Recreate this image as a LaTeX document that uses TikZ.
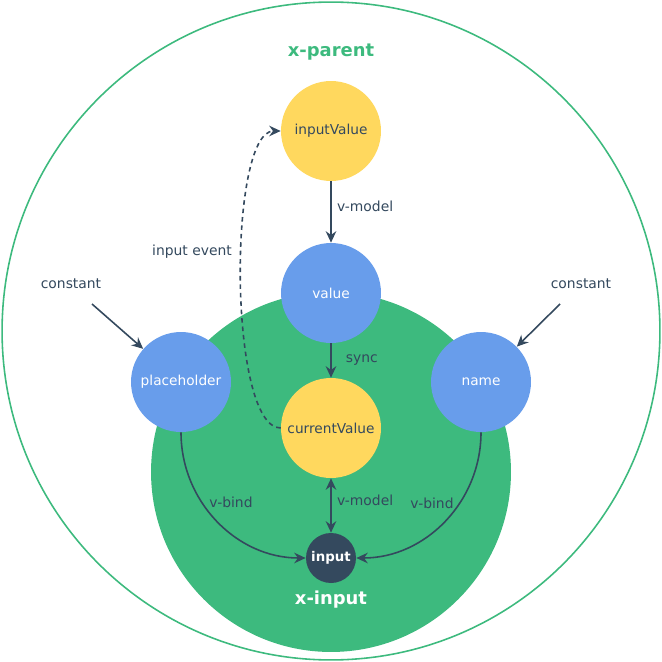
\documentclass[tikz,border=0pt]{standalone}
\usepackage{fontspec}
\setmainfont{DejaVu Sans}
\definecolor{parentgreen}{RGB}{61, 186, 126}
\definecolor{vueyellow}{RGB}{255, 216, 94}
\definecolor{vueblue}{RGB}{104, 157, 235}
\definecolor{textnavy}{RGB}{52, 73, 94}
\usetikzlibrary{arrows.meta, positioning}

\begin{document}
\begin{tikzpicture}[x=0.02cm, y=-0.02cm, >={Stealth[length=6.5pt, width=6pt]},
    bubble/.style={circle, minimum size=2cm, inner sep=0pt, font=\fontsize{7.8}{9}\selectfont},
    yellowbubble/.style={bubble, fill=vueyellow, text=textnavy},
    bluebubble/.style={bubble, fill=vueblue, text=white},
    edgelabel/.style={text=textnavy, inner sep=1pt, font=\fontsize{7.9}{9}\selectfont},
    scopelabel/.style={font=\fontsize{10.2}{12}\selectfont\bfseries},
    flow/.style={line width=0.9pt, draw=textnavy}]
      \useasboundingbox (0,0) rectangle (662,662);
      % the two scopes
      \draw[parentgreen, line width=0.9pt] (331,331) circle [radius=6.58cm];
      \fill[parentgreen] (331,472) circle [radius=3.6cm];
      \node (parentname) [scopelabel, text=parentgreen] at (331,52) {x-parent};
      \node (inputname) [scopelabel, text=white] at (331,600) {x-input};

      \node (inputValue) [yellowbubble] at (331,131) {inputValue};
      \node (value) [bluebubble] at (331,293) {value};
      \node (currentValue) [yellowbubble] at (331,428) {currentValue};
      \node (placeholder) [bluebubble] at (181,382) {placeholder};
      \node (name) [bluebubble] at (481,382) {name};
      \node (input) [circle, fill=textnavy, text=white, minimum size=1cm, inner sep=0pt, font=\fontsize{7.6}{9}\selectfont\bfseries] at (331,558) {input};

      \node (constleft) [edgelabel] at (71,284) {constant};
      \node (constright) [edgelabel] at (581,284) {constant};
      \coordinate (constleft-tail) at (92,304);
      \coordinate (constright-tail) at (560,304);
      \node (eventlabel) [edgelabel] at (192,252) {input event};
      \node (bindleft) [edgelabel] at (231,502) {v-bind};
      \node (bindright) [edgelabel] at (432,503) {v-bind};

      \draw[->, flow] (inputValue) -- node[edgelabel, right=2pt, pos=0.4] {v-model} (value);
      \draw[->, flow] (value) -- node[edgelabel, right=7pt] {sync} (currentValue);
      \draw[<->, flow] (currentValue) -- node[edgelabel, right=2pt, pos=0.4] {v-model} (input);
      \draw[->, flow] (constleft-tail) -- (placeholder);
      \draw[->, flow] (constright-tail) -- (name);
      \draw[->, flow] (placeholder.south) to[out=-90, in=180] (input.west);
      \draw[->, flow] (name.south) to[out=-90, in=0] (input.east);
      \draw[->, flow, dash pattern=on 2.6pt off 2.2pt] (currentValue.west) .. controls (228,428) and (228,131) .. (inputValue.west);
    \end{tikzpicture}
\end{document}
